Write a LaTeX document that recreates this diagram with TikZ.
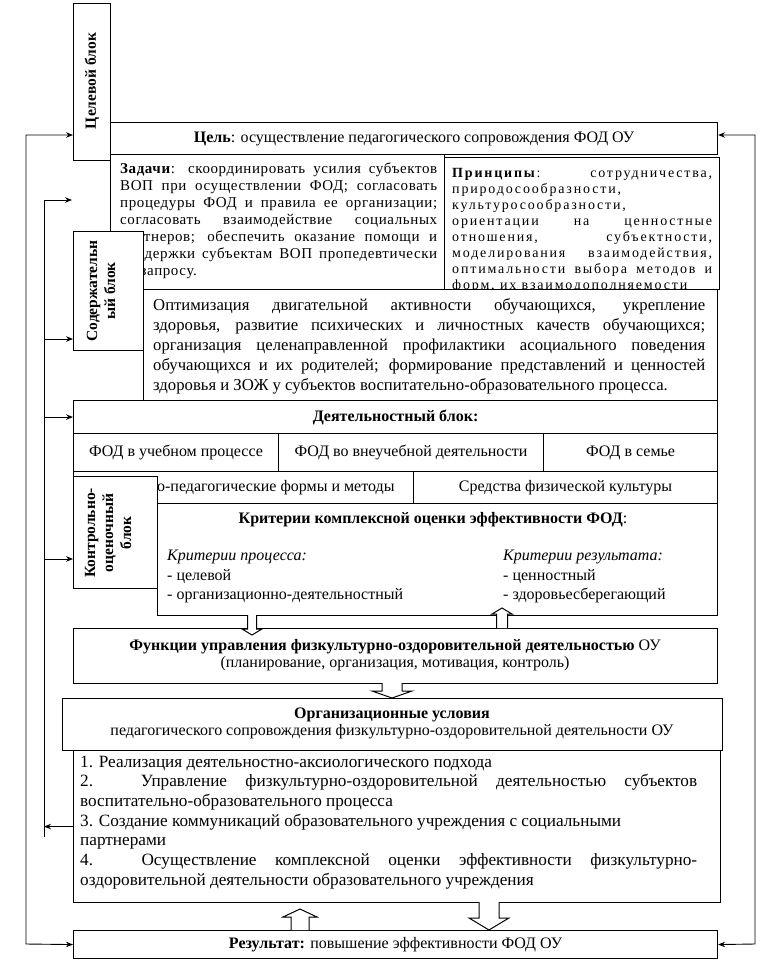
\documentclass[tikz,border=0pt]{standalone}
\usepackage{fontspec}
\setmainfont{Liberation Serif}
\newfontfamily\tasksfont[LetterSpace=4]{Liberation Serif}
\newfontfamily\princfont[LetterSpace=13]{Liberation Serif}
\usetikzlibrary{arrows.meta}
\newcommand\jline[2]{\makebox[#1][s]{#2}}
\newcommand\hollowarr[6]{%
  \filldraw[hollow] ({#1-#5},#2) -- ({#1-#5},#3) -- ({#1-#6},#3) -- (#1,#4)
    -- ({#1+#6},#3) -- ({#1+#5},#3) -- ({#1+#5},#2);}
\begin{document}
\begin{tikzpicture}[x=1pt,y=-1pt,
  bx/.style={draw, line width=1.1pt, fill=white, inner sep=0pt, anchor=north west},
  conn/.style={line width=0.9pt},
  arr/.style={conn, -{Stealth[length=7pt,width=5.5pt]}},
  dbl/.style={conn, {Stealth[length=7pt,width=5.5pt]}-{Stealth[length=7pt,width=5.5pt]}},
  hollow/.style={draw, fill=white, line width=1pt, line join=miter},
  txt/.style={inner sep=0pt, anchor=base west},
  ctxt/.style={inner sep=0pt, anchor=base},
  f16/.style={font=\fontsize{16}{19}\selectfont},
  lbl/.style={rotate=90, align=center, inner sep=0pt, font=\bfseries\fontsize{15.5}{18}\selectfont}]
\useasboundingbox[fill=white] (0,0) rectangle (766,963);

% ---------- target block ----------
\node[bx, minimum width=37pt, minimum height=157pt] (celb) at (73,3) {};
\node[lbl] (celblbl) at (92,81) {Целевой блок};
\node[bx, minimum width=607pt, minimum height=32pt, f16] (goal) at (110,122)
  {\textbf{Цель}: осуществление педагогического сопровождения ФОД ОУ};

\node[bx, minimum width=334pt, minimum height=135pt] (tasks) at (110,154) {};
\node[txt] (taskstxt) at (120,173) {\parbox[t]{317pt}{\tasksfont\fontsize{15}{17}\selectfont
  \jline{317pt}{\textbf{Задачи}: скоординировать усилия субъектов}\\
  \jline{317pt}{ВОП при осуществлении ФОД; согласовать}\\
  \jline{317pt}{процедуры ФОД и правила ее организации;}\\
  \jline{317pt}{согласовать взаимодействие социальных}\\
  \jline{317pt}{партнеров; обеспечить оказание помощи и}\\
  \jline{317pt}{поддержки субъектам ВОП пропедевтически}\\
  по запросу.}};

\node[bx, minimum width=275pt, minimum height=132pt] (princ) at (444,157) {};
\node[txt] (princtxt) at (452,177.5) {\parbox[t]{260pt}{\princfont\fontsize{14}{16}\selectfont
  \jline{260pt}{\textbf{Принципы}: сотрудничества,}\\
  природосообразности,\\
  культуросообразности,\\
  \jline{260pt}{ориентации на ценностные}\\
  \jline{260pt}{отношения, субъектности,}\\
  \jline{260pt}{моделирования взаимодействия,}\\
  \jline{260pt}{оптимальности выбора методов и}\\
  форм, их взаимодополняемости}};

% ---------- content block ----------
\node[bx, minimum width=574pt, minimum height=111pt] (content) at (143,289) {};
\node[txt] (contenttxt) at (153,310) {\parbox[t]{552pt}{\fontsize{16.7}{20}\selectfont
  \jline{552pt}{Оптимизация двигательной активности обучающихся, укрепление}\\
  \jline{552pt}{здоровья, развитие психических и личностных качеств обучающихся;}\\
  \jline{552pt}{организация целенаправленной профилактики асоциального поведения}\\
  \jline{552pt}{обучающихся и их родителей; формирование представлений и ценностей}\\
  здоровья и ЗОЖ у субъектов воспитательно-образовательного процесса.}};
\node[bx, minimum width=70pt, minimum height=119pt] (sod) at (73,231) {};
\node[lbl] (sodlbl) at (101,291) {Содержательн\\ый блок};

% ---------- activity block ----------
\node[bx, minimum width=644pt, minimum height=33pt, f16] (deyat) at (73,400) {\textbf{Деятельностный блок:}};
\node[bx, minimum width=205pt, minimum height=38pt, f16] (r1a) at (73,433) {ФОД в учебном процессе};
\node[bx, minimum width=265pt, minimum height=38pt, f16] (r1b) at (278,433) {ФОД во внеучебной деятельности};
\node[bx, minimum width=174pt, minimum height=38pt, f16] (r1c) at (543,433) {ФОД в семье};
\node[bx, minimum width=340pt, minimum height=32pt, f16] (r2a) at (73,471) {Психолого-педагогические формы и методы};
\node[bx, minimum width=304pt, minimum height=32pt, f16] (r2b) at (413,471) {Средства физической культуры};

% ---------- control block ----------
\node[bx, minimum width=84pt, minimum height=112pt] (kontr) at (73,476) {};
\node[lbl] (kontrlbl) at (108,533) {Контрольно-\\оценочный\\блок};
\node[bx, minimum width=560pt, minimum height=112pt] (crit) at (157,503) {};
\node[ctxt, f16] (crittitle) at (433,523) {\textbf{Критерии комплексной оценки эффективности ФОД}:};
\node[txt, f16] (cpt) at (167,560) {\textit{Критерии процесса:}};
\node[txt, f16] (cp1) at (167,580) {- целевой};
\node[txt, f16] (cp2) at (167,599) {- организационно-деятельностный};
\node[txt, f16] (crt) at (503,560) {\textit{Критерии результата:}};
\node[txt, f16] (cr1) at (503,580) {- ценностный};
\node[txt, f16] (cr2) at (503,599) {- здоровьесберегающий};

% ---------- functions ----------
\node[bx, minimum width=644pt, minimum height=55pt] (func) at (73,628) {};
\node[ctxt, f16] (func1) at (395,650) {\textbf{Функции управления физкультурно-оздоровительной деятельностью} ОУ};
\node[ctxt, f16] (func2) at (395,667) {(планирование, организация, мотивация, контроль)};

% ---------- organisational conditions ----------
\node[bx, minimum width=660pt, minimum height=52pt] (orgh) at (62,698) {};
\node[ctxt, f16] (orgh1) at (392,718) {\textbf{Организационные условия}};
\node[ctxt, f16] (orgh2) at (392,735) {педагогического сопровождения физкультурно-оздоровительной деятельности ОУ};
\node[bx, minimum width=647pt, minimum height=152pt] (orgl) at (73,750) {};
\node[txt] (orgltxt) at (80,767) {\parbox[t]{617pt}{\fontsize{17.2}{19.7}\selectfont
  1. Реализация деятельностно-аксиологического подхода\\
  \jline{617pt}{2. Управление физкультурно-оздоровительной деятельностью субъектов}\\
  воспитательно-образовательного процесса\\
  3. Создание коммуникаций образовательного учреждения с социальными\\
  партнерами\\
  \jline{617pt}{4. Осуществление комплексной оценки эффективности физкультурно-}\\
  оздоровительной деятельности образовательного учреждения}};

% ---------- result ----------
\node[bx, minimum width=644pt, minimum height=28pt, f16] (result) at (73,930)
  {\textbf{Результат:} повышение эффективности ФОД ОУ};

% ---------- hollow block arrows ----------
\hollowarr{252}{615}{629}{635}{4.5}{10}
\hollowarr{502}{628}{614}{608}{5.5}{10}
\hollowarr{392}{683}{691}{698}{10}{20}
\hollowarr{300}{930}{917}{909}{9}{17}
\hollowarr{489}{902}{918}{930}{10}{20}

% ---------- feedback connectors ----------
\coordinate (y135) at (0,135);
\coordinate (y339) at (0,339);
\coordinate (y559) at (0,559);
\coordinate (ol) at (26,944);
\coordinate (or) at (755,944);
\coordinate (il1) at (44,200);
\coordinate (il2) at (44,837);
\coordinate (free200) at (72,200);
\draw[dbl] (celb.west |- y135) -| (ol) -- (result.west);
\draw[dbl] (goal.east |- y135) -| (or) -- (result.east);
\draw[conn] (il1) -- (il2);
\draw[arr] (il1) -- (free200);
\draw[arr] (il1 |- y339) -- (sod.west |- y339);
\draw[arr] (il1 |- deyat.west) -- (deyat.west);
\draw[arr] (il1 |- y559) -- (kontr.west |- y559);
\draw[arr] (orgl.west) -- (il1 |- orgl.west);
\end{tikzpicture}
\end{document}
